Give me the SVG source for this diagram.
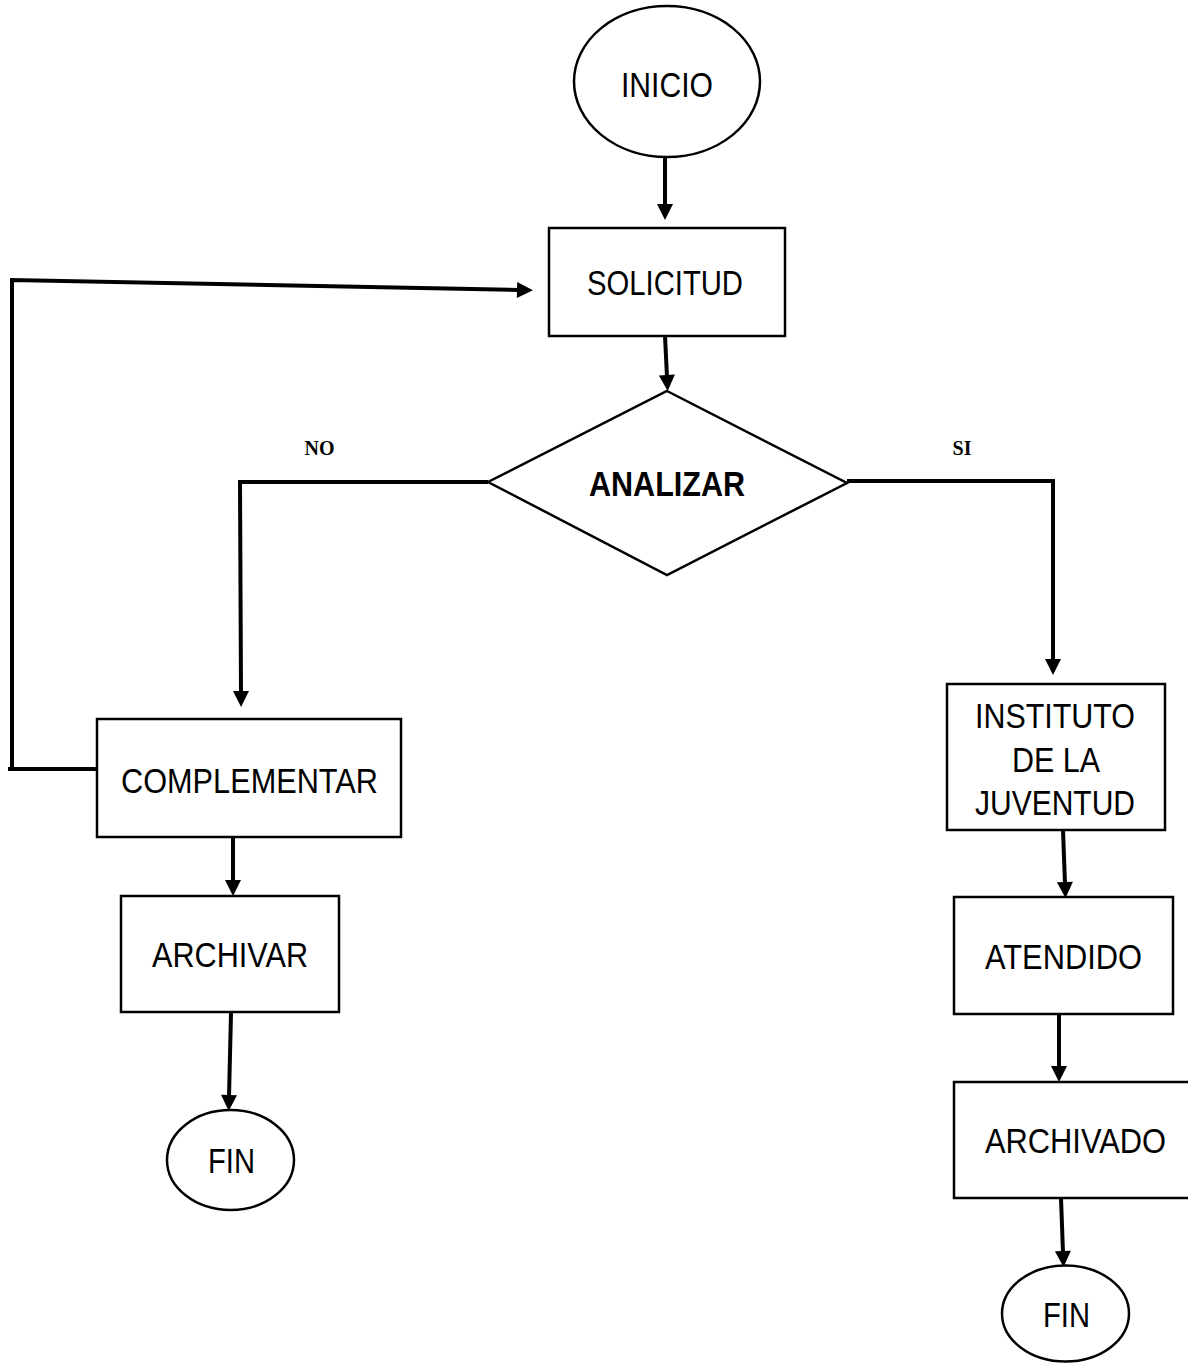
<svg xmlns="http://www.w3.org/2000/svg" width="1188" height="1363" viewBox="0 0 1188 1363">
<defs>
<style>
.shape{fill:#fff;stroke:#000;stroke-width:2.5}
.lbl{font-family:"Liberation Sans",Arial,sans-serif;font-size:35px;fill:#000;text-anchor:middle}
.bold{font-weight:bold}
.tag{font-family:"Liberation Serif","Times New Roman",serif;font-size:20px;font-weight:bold;fill:#000;text-anchor:middle}
.conn{fill:none;stroke:#000;stroke-width:4;marker-end:url(#arrow)}
.plain{fill:none;stroke:#000;stroke-width:4}
</style>
<marker id="arrow" markerUnits="userSpaceOnUse" markerWidth="16" markerHeight="16" refX="2" refY="8" orient="auto" overflow="visible">
<path d="M0,0 L16,8 L0,16 z" fill="#000"/>
</marker>
</defs>
<rect x="0" y="0" width="1188" height="1363" fill="#fff"/>
<g id="connectors">
<line class="conn" x1="665" y1="157" x2="665" y2="206"/>
<line class="conn" x1="665" y1="336" x2="667" y2="377"/>
<polyline class="conn" points="488,482 240,482 241,693"/>
<polyline class="conn" points="847,481 1053,481 1053,661"/>
<line class="conn" x1="233" y1="838" x2="233" y2="882"/>
<line class="conn" x1="231" y1="1013" x2="229" y2="1097"/>
<line class="conn" x1="1063" y1="830" x2="1065" y2="884"/>
<line class="conn" x1="1059" y1="1014" x2="1059" y2="1068"/>
<line class="conn" x1="1061" y1="1198" x2="1063" y2="1253"/>
<path class="plain" d="M97,769 L8,769"/>
<path class="conn" d="M12,771 L12,280 L519,290"/>
<text class="tag" x="319.5" y="455">NO</text>
<text class="tag" x="962" y="455">SI</text>
</g>
<g id="inicio">
<ellipse class="shape" cx="667" cy="81.5" rx="93" ry="75.5"/>
<text class="lbl" x="667" y="97" textLength="92" lengthAdjust="spacingAndGlyphs">INICIO</text>
</g>
<g id="solicitud">
<rect class="shape" x="549" y="228" width="236" height="108"/>
<text class="lbl" x="665" y="295" textLength="156" lengthAdjust="spacingAndGlyphs">SOLICITUD</text>
</g>
<g id="analizar">
<polygon class="shape" points="667,391 847,483 667,575 488,482"/>
<text class="lbl bold" x="667" y="496" textLength="156" lengthAdjust="spacingAndGlyphs">ANALIZAR</text>
</g>
<g id="complementar">
<rect class="shape" x="97" y="719" width="304" height="118"/>
<text class="lbl" x="249.5" y="793" textLength="257" lengthAdjust="spacingAndGlyphs">COMPLEMENTAR</text>
</g>
<g id="archivar">
<rect class="shape" x="121" y="896" width="218" height="116"/>
<text class="lbl" x="230" y="967" textLength="156" lengthAdjust="spacingAndGlyphs">ARCHIVAR</text>
</g>
<g id="fin-izq">
<ellipse class="shape" cx="230.5" cy="1160" rx="63.5" ry="50"/>
<text class="lbl" x="231.5" y="1173" textLength="47" lengthAdjust="spacingAndGlyphs">FIN</text>
</g>
<g id="instituto">
<rect class="shape" x="947" y="684" width="218" height="146"/>
<text class="lbl" x="1055" y="728" textLength="160" lengthAdjust="spacingAndGlyphs">INSTITUTO</text>
<text class="lbl" x="1056" y="772" textLength="88" lengthAdjust="spacingAndGlyphs">DE LA</text>
<text class="lbl" x="1055" y="815" textLength="160" lengthAdjust="spacingAndGlyphs">JUVENTUD</text>
</g>
<g id="atendido">
<rect class="shape" x="954" y="897" width="219" height="117"/>
<text class="lbl" x="1063.5" y="969" textLength="157" lengthAdjust="spacingAndGlyphs">ATENDIDO</text>
</g>
<g id="archivado">
<rect class="shape" x="954" y="1082" width="240" height="116"/>
<text class="lbl" x="1075.5" y="1153" textLength="181" lengthAdjust="spacingAndGlyphs">ARCHIVADO</text>
</g>
<g id="fin-der">
<ellipse class="shape" cx="1065.5" cy="1313.5" rx="63.5" ry="48"/>
<text class="lbl" x="1066.5" y="1327" textLength="47" lengthAdjust="spacingAndGlyphs">FIN</text>
</g>
</svg>
